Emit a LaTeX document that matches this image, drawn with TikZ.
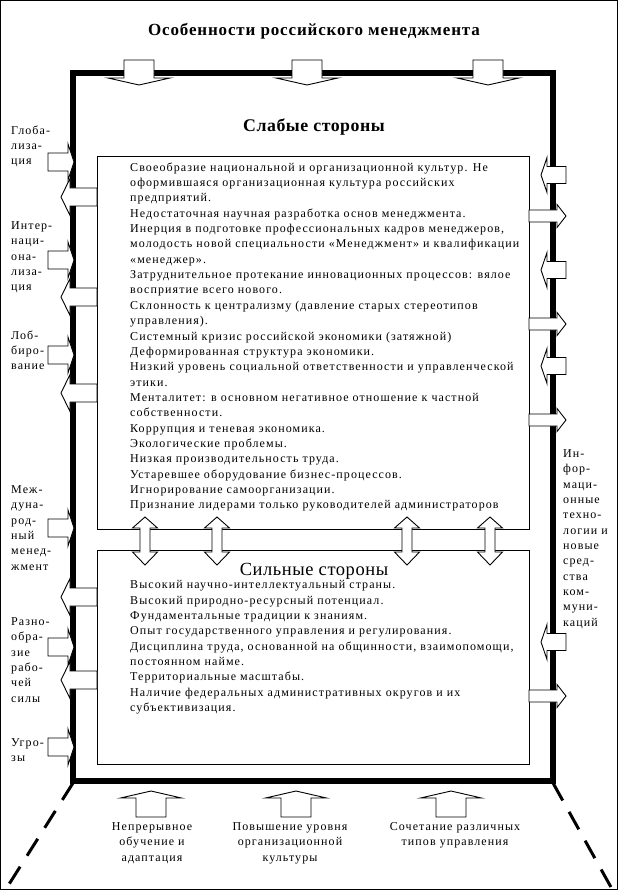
\documentclass[tikz,border=0pt]{standalone}
\usepackage{fontspec}
\setmainfont{Liberation Serif}
\newfontfamily\txtfont[LetterSpace=9]{Liberation Serif}
\newfontfamily\ttlfont[LetterSpace=5]{Liberation Serif}
\newfontfamily\hdfont[LetterSpace=3]{Liberation Serif}
\newcommand\hblock[6]{\draw[blk] (#1,{#4-#5/2}) -- (#2,{#4-#5/2}) -- (#2,{#4-#6/2}) -- (#3,#4) -- (#2,{#4+#6/2}) -- (#2,{#4+#5/2}) -- (#1,{#4+#5/2}) -- cycle;}
\newcommand\vblock[6]{\draw[blk] ({#1-#5/2},#2) -- ({#1-#5/2},#3) -- ({#1-#6/2},#3) -- (#1,#4) -- ({#1+#6/2},#3) -- ({#1+#5/2},#3) -- ({#1+#5/2},#2) -- cycle;}
\newcommand\dblock[1]{\draw[blk] (#1,517) -- ({#1+12.5},528) -- ({#1+5},528) -- ({#1+5},552) -- ({#1+12.5},552) -- (#1,565) -- ({#1-12.5},552) -- ({#1-5},552) -- ({#1-5},528) -- ({#1-12.5},528) -- cycle;}
\tikzset{
  blk/.style={draw=black, fill=white, line width=0.9pt, line join=miter},
  thinbox/.style={draw=black, line width=0.9pt, inner sep=0pt, outer sep=0pt, fill=white},
  txt/.style={font=\txtfont\fontsize{12}{15.36}\selectfont, inner sep=0pt, align=left, anchor=north west, execute at begin node=\strut},
  ctxt/.style={font=\txtfont\fontsize{12}{15.36}\selectfont, inner sep=0pt, align=center, anchor=north, execute at begin node=\strut},
  perspdash/.style={line width=3pt, dash pattern=on 20pt off 13pt},
}
\begin{document}
\begin{tikzpicture}[x=1pt,y=-1pt]
\useasboundingbox (0,0) rectangle (618,890);
\draw[line width=1pt] (0.5,0.5) rectangle (617.5,889.5);
% title
\node[font=\ttlfont\bfseries\fontsize{17}{19}\selectfont, inner sep=0pt, anchor=base] (title) at (314,36) {Особенности российского менеджмента};
% thick frame
\node[draw, line width=6pt, line join=miter, minimum width=480pt, minimum height=708pt, inner sep=0pt, outer sep=0pt] (frame) at (313,427) {};
% dashed perspective lines
\coordinate (dl0) at (73,783);
\coordinate (dl1) at (6,889);
\coordinate (dr0) at (553,783);
\coordinate (dr1) at (612,889);
\draw[perspdash] (dl0) -- (dl1);
\draw[perspdash] (dr0) -- (dr1);
% inner boxes
\node[thinbox, minimum width=432pt, minimum height=373pt, anchor=north west] (weak) at (97,156) {};
\node[thinbox, minimum width=432pt, minimum height=214pt, anchor=north west] (strong) at (97,550) {};
% top arrows (down)
\vblock{139}{60}{78}{85}{30}{62}
\vblock{307}{60}{78}{85}{30}{62}
\vblock{488}{60}{78}{85}{30}{62}
% bottom arrows (up)
\vblock{151}{817}{798}{791}{30}{61}
\vblock{296}{817}{798}{791}{30}{61}
\vblock{451}{817}{798}{791}{30}{61}
% left incoming
\hblock{48}{68}{74}{162}{18}{36}
\hblock{48}{68}{74}{260}{18}{36}
\hblock{48}{68}{74}{355}{18}{36}
\hblock{48}{68}{74}{528}{18}{36}
\hblock{48}{68}{74}{647}{18}{36}
\hblock{48}{68}{74}{747}{18}{36}
% left outgoing
\hblock{97}{70}{61}{197}{18}{37}
\hblock{97}{70}{61}{297}{18}{37}
\hblock{97}{70}{61}{393}{18}{37}
\hblock{97}{70}{61}{597}{18}{37}
\hblock{97}{70}{61}{680}{18}{37}
% right incoming
\hblock{566}{547}{541}{175}{17}{35}
\hblock{566}{547}{541}{270}{17}{35}
\hblock{566}{547}{541}{366}{17}{35}
\hblock{566}{547}{541}{642}{17}{35}
% right outgoing
\hblock{529}{557}{566}{216}{12}{23}
\hblock{529}{557}{566}{324}{12}{23}
\hblock{529}{557}{566}{420}{12}{23}
\hblock{529}{557}{566}{696}{12}{23}
% double arrows between boxes
\dblock{145}
\dblock{217}
\dblock{407}
\dblock{490}
% headings
\node[font=\hdfont\bfseries\fontsize{17.8}{19}\selectfont, inner sep=0pt, anchor=base] (weakh) at (314,132) {Слабые стороны};
\node[font=\hdfont\fontsize{18.5}{20}\selectfont, inner sep=0pt, anchor=base] (strongh) at (314,575) {Сильные стороны};
% box texts
\node[txt] (weakt) at (130,162.25) {Своеобразие национальной и организационной культур. Не\\
оформившаяся организационная культура российских\\
предприятий.\\
Недостаточная научная разработка основ менеджмента.\\
Инерция в подготовке профессиональных кадров менеджеров,\\
молодость новой специальности «Менеджмент» и квалификации\\
«менеджер».\\
Затруднительное протекание инновационных процессов: вялое\\
восприятие всего нового.\\
Склонность к централизму (давление старых стереотипов\\
управления).\\
Системный кризис российской экономики (затяжной)\\
Деформированная структура экономики.\\
Низкий уровень социальной ответственности и управленческой\\
этики.\\
Менталитет: в основном негативное отношение к частной\\
собственности.\\
Коррупция и теневая экономика.\\
Экологические проблемы.\\
Низкая производительность труда.\\
Устаревшее оборудование бизнес-процессов.\\
Игнорирование самоорганизации.\\
Признание лидерами только руководителей администраторов};
\node[txt] (strongt) at (130,580.25) {Высокий научно-интеллектуальный страны.\\
Высокий природно-ресурсный потенциал.\\
Фундаментальные традиции к знаниям.\\
Опыт государственного управления и регулирования.\\
Дисциплина труда, основанной на общинности, взаимопомощи,\\
постоянном найме.\\
Территориальные масштабы.\\
Наличие федеральных административных округов и их\\
субъективизация.};
% left labels
\node[txt] (l1) at (11,125.25) {Глоба-\\лиза-\\ция};
\node[txt] (l2) at (11,221.25) {Интер-\\наци-\\она-\\лиза-\\ция};
\node[txt] (l3) at (11,330.25) {Лоб-\\биро-\\вание};
\node[txt] (l4) at (11,485.25) {Меж-\\дуна-\\род-\\ный\\менед-\\жмент};
\node[txt] (l5) at (11,617.25) {Разно-\\обра-\\зие\\рабо-\\чей\\силы};
\node[txt] (l6) at (11,738.25) {Угро-\\зы};
% right label
\node[txt] (r1) at (563,449.25) {Ин-\\фор-\\маци-\\онные\\техно-\\логии и\\новые\\сред-\\ства\\ком-\\муни-\\каций};
% bottom labels
\node[ctxt] (b1) at (152,822.25) {Непрерывное\\обучение и\\адаптация};
\node[ctxt] (b2) at (290,822.25) {Повышение уровня\\организационной\\культуры};
\node[ctxt] (b3) at (455,822.25) {Сочетание различных\\типов управления};
\end{tikzpicture}
\end{document}
